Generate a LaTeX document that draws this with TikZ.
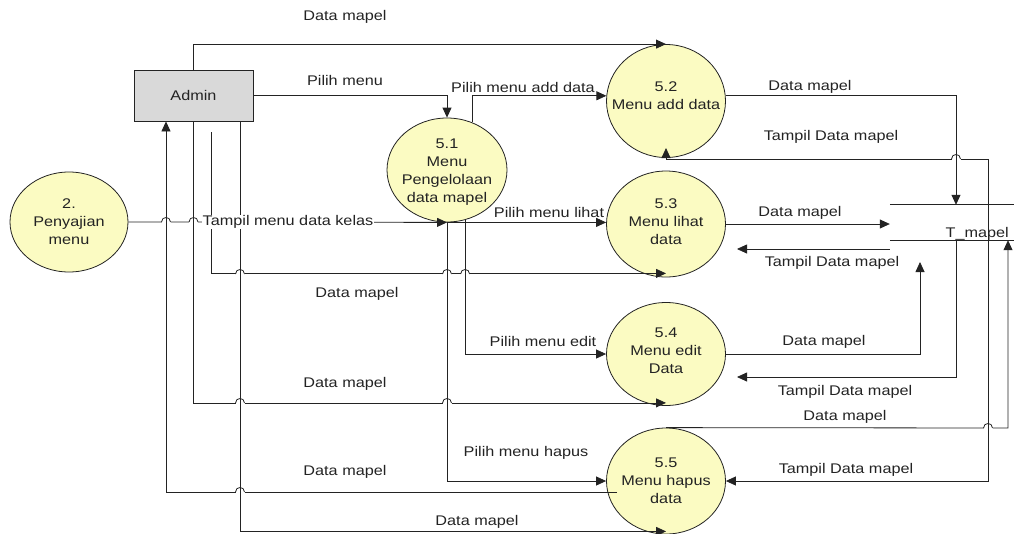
\documentclass[tikz,border=0pt]{standalone}
\usepackage{fontspec}
\setmainfont{Liberation Sans}[FakeStretch=1.16]
\usetikzlibrary{arrows.meta,shapes.geometric,calc}
\definecolor{procfill}{RGB}{251,251,194}
\definecolor{entfill}{RGB}{217,217,217}
\definecolor{ink}{RGB}{35,35,35}

% a small bridge where a horizontal flow passes over a vertical one
\newcommand\jump[2]{%
  \draw[white, line width=2.6pt] (#1-4.5,#2) -- (#1+4.5,#2);
  \draw[flow] (#1-4.5,#2) .. controls (#1-4.5,#2-6) and (#1+4.5,#2-6) .. (#1+4.5,#2);
  \draw[flow] (#1,#2-3) -- (#1,#2+3);}

\begin{document}
\begin{tikzpicture}[x=1pt,y=-1pt,
  every node/.style={font=\fontsize{14}{18}\selectfont, text=ink},
  proc/.style={ellipse, draw=ink, line width=0.8pt, fill=procfill, inner sep=0pt},
  ptext/.style={align=center, inner sep=0pt},
  entity/.style={rectangle, draw=ink, line width=0.8pt, fill=entfill,
                 minimum width=119pt, minimum height=51pt, inner sep=0pt},
  flow/.style={draw=ink, line width=0.8pt},
  arr/.style={flow, -{Triangle[length=10pt,width=9pt]}},
  lbl/.style={inner sep=1pt},
]
\useasboundingbox (0,0) rectangle (1014,533);

% external entity and processes
\node[entity] (adm) at (193.5,95.5) {Admin};
\node[proc, minimum width=118pt, minimum height=100pt,
      label={[ptext]center:{2.\\Penyajian\\menu}}] (p2) at (69,222) {};
\node[proc, minimum width=120pt, minimum height=104pt,
      label={[ptext,yshift=-2pt]center:{5.1\\Menu\\Pengelolaan\\data mapel}}] (p51) at (447,170) {};
\node[proc, minimum width=119pt, minimum height=113pt,
      label={[ptext,yshift=5pt]center:{5.2\\Menu add data}}] (p52) at (666,101) {};
\node[proc, minimum width=119pt, minimum height=106pt,
      label={[ptext,yshift=2pt]center:{5.3\\Menu lihat\\data}}] (p53) at (666,224) {};
\node[proc, minimum width=119pt, minimum height=103pt,
      label={[ptext,yshift=3pt]center:{5.4\\Menu edit\\Data}}] (p54) at (666,354) {};
\node[proc, minimum width=119pt, minimum height=106pt,
      label={[ptext]center:{5.5\\Menu hapus\\data}}] (p55) at (666,481) {};

% data store T_mapel
\node[minimum width=132pt, minimum height=35pt, inner sep=0pt] (tm) at (956,222.5) {};
\draw[flow] (tm.north west) -- (tm.north east);
\draw[flow] (tm.south west) -- (tm.south east);
\node[anchor=base east, inner sep=0pt] (tmtxt) at (1009,237) {T\_mapel};

% routing points
\coordinate (lane5)  at (988,159);
\coordinate (t52)    at (666,148);
\coordinate (t7)     at (737,249);
\coordinate (t8)     at (920,262);
\coordinate (t9)     at (737,377);
\coordinate (lane10) at (1008,428);
\coordinate (s16)    at (211,132);
\coordinate (s18)    at (617,492);
\coordinate (x166)   at (166,0);
\coordinate (x240)   at (240,0);

% flows
\draw[arr] (adm.north) |- (p52.north);
\draw[arr] (adm.east) -| (p51.north);
\draw[arr] (p51.62) |- (p52.175);
\draw[arr] (p52.5) -| (tm.north);
\draw[arr] (tm.south -| lane5) -- (lane5) -| (t52);
\draw[arr] (p53.east) -- (p53.east -| tm.west);
\draw[arr] (tm.west |- t7) -- (t7);
\draw[arr] (p54.east) -| (t8);
\draw[arr] (tm.south) |- (t9);
\draw[arr] (p55.north) -- (lane10) -- (tm.south -| lane10);
\draw[arr] (tm.south -| lane5) |- (p55.east);
\draw[arr] (p2.east) -- (p51.south);
\draw[arr] (p51.south) -- (p51.south -| p53.west);
\draw[arr] (p51.south) |- (p55.west);
\draw[arr] (p51.-70) |- (p54.west);
\draw[arr] (s16) |- ($(p53.south)+(0,-4)$);
\draw[arr] (adm.south) |- ($(p54.south)+(0,-3)$);
\draw[arr] (s18) -| (adm.south -| x166);
\draw[arr] (adm.south -| x240) |- ($(p55.south)+(0,-3)$);

% line bridges
\jump{956}{159}
\jump{988}{428}
\jump{166}{222}
\jump{193.5}{222}
\jump{240}{274}
\jump{447}{274}
\jump{465.1}{274}
\jump{240}{403}
\jump{447}{403}
\jump{240}{492}

% flow labels
\node[lbl] (l1)  at (345,17)  {Data mapel};
\node[lbl] (l2)  at (345,80)  {Pilih menu};
\node[lbl] (l3)  at (523,87)  {Pilih menu add data};
\node[lbl] (l4)  at (810,87)  {Data mapel};
\node[lbl] (l5)  at (831,137) {Tampil Data mapel};
\node[lbl] (l6)  at (800,213) {Data mapel};
\node[lbl] (l7)  at (832,263) {Tampil Data mapel};
\node[lbl, fill=white, inner sep=0.5pt] (l8) at (288,222) {Tampil menu data kelas};
\node[lbl] (l9)  at (549,212) {Pilih menu lihat};
\node[lbl] (l10) at (357,294) {Data mapel};
\node[lbl] (l11) at (543,341) {Pilih menu edit};
\node[lbl] (l12) at (824,342) {Data mapel};
\node[lbl] (l13) at (345,384) {Data mapel};
\node[lbl] (l14) at (845,392) {Tampil Data mapel};
\node[lbl] (l15) at (845,417) {Data mapel};
\node[lbl] (l16) at (526,453) {Pilih menu hapus};
\node[lbl] (l17) at (345,472) {Data mapel};
\node[lbl] (l18) at (846,470) {Tampil Data mapel};
\node[lbl] (l19) at (477,522) {Data mapel};
\end{tikzpicture}
\end{document}
